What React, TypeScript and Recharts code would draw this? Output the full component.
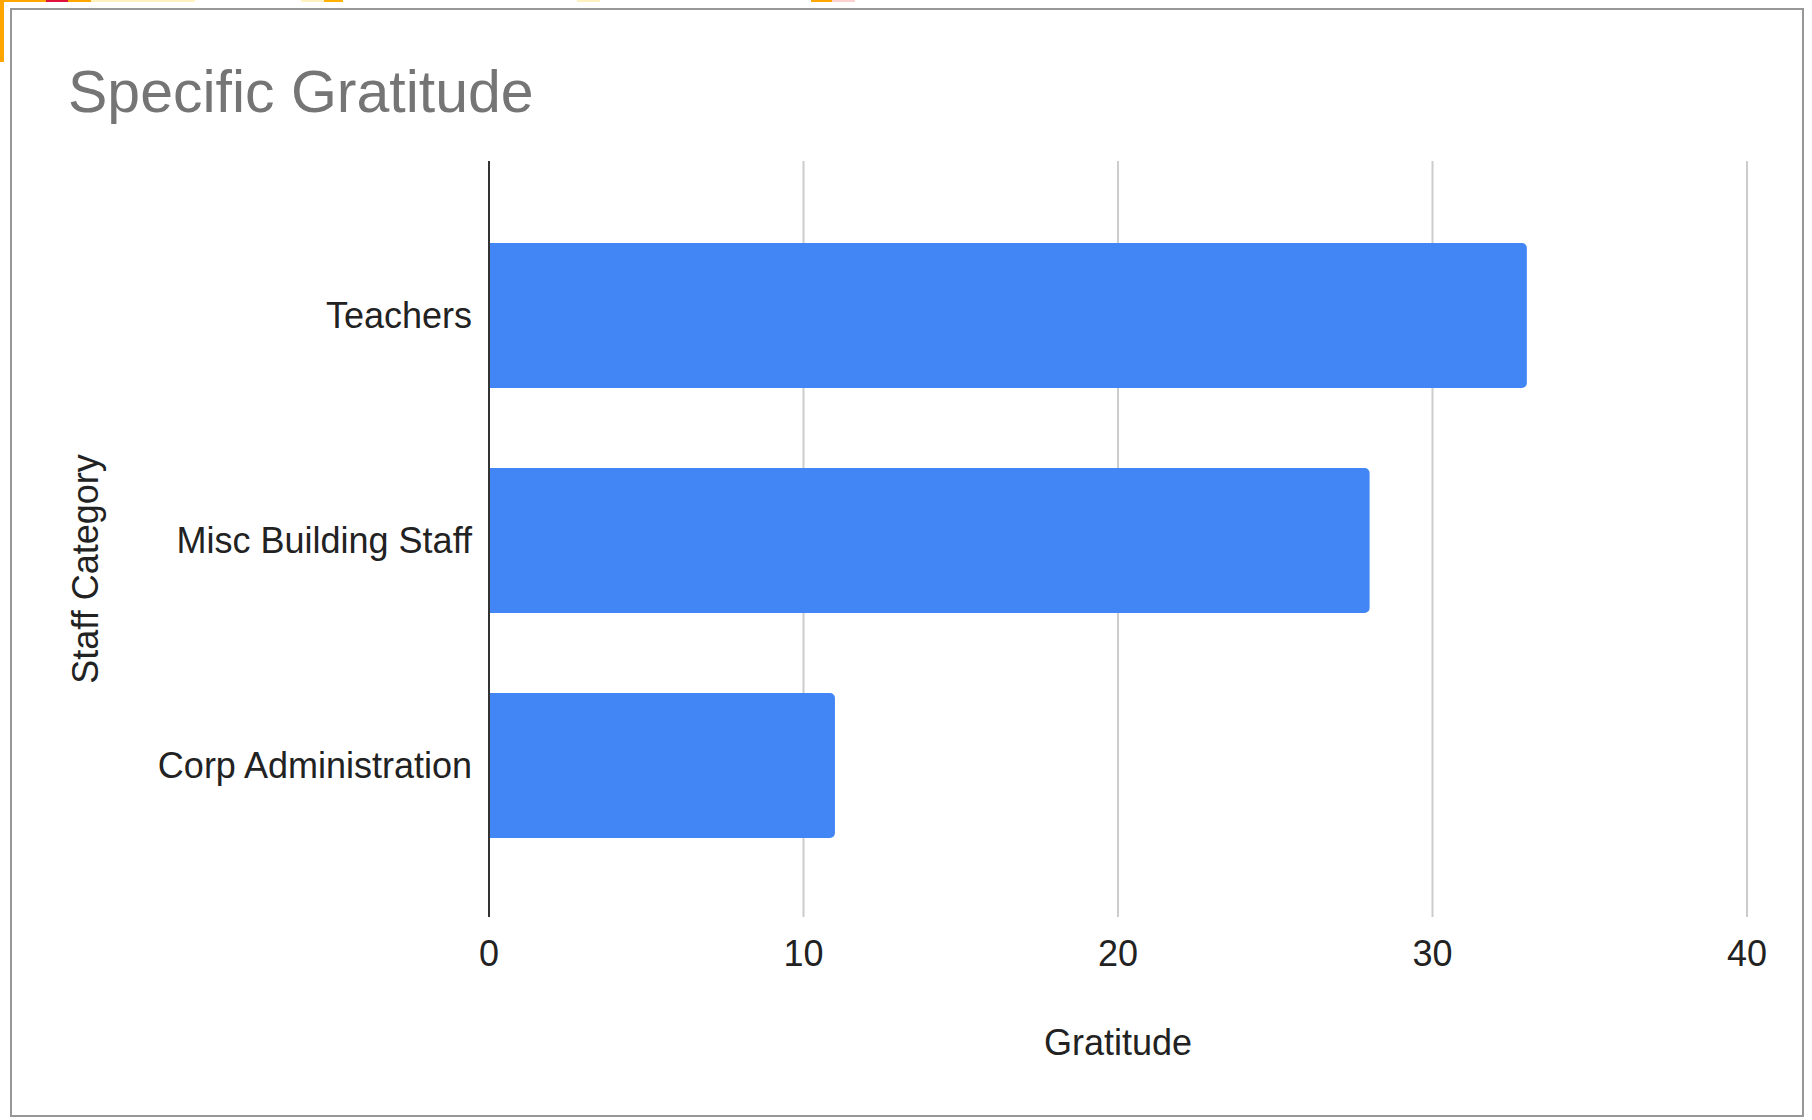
import React from 'react';
import { BarChart, Bar, XAxis, YAxis, CartesianGrid, Label } from 'recharts';

const categories = ['Teachers', 'Misc Building Staff', 'Corp Administration'];
const gratitudeValues = [33, 28, 11];
const xTicks = [0, 10, 20, 30, 40];

const chartTitle = 'Specific Gratitude';
const xAxisTitle = 'Gratitude';
const yAxisTitle = 'Staff Category';

const data = categories.map((name, i) => ({ name, value: gratitudeValues[i] }));

const FONT = '"Liberation Sans", Arial, Helvetica, sans-serif';

const YTitle = (props: any) => {
  const vb = props.viewBox || { x: 0, y: 0, width: 0, height: 0 };
  const cx = vb.x + 69;
  const cy = vb.y + vb.height / 2 + 30;
  return (
    <text
      x={cx}
      y={cy}
      textAnchor="middle"
      transform={`rotate(-90, ${cx}, ${cy})`}
      fontFamily={FONT}
      fontSize={36}
      fill="#222222"
    >
      {yAxisTitle}
    </text>
  );
};

const strips = [
  { l: 0, w: 46, c: '#ffa500' },
  { l: 46, w: 22, c: '#e0113c' },
  { l: 68, w: 23, c: '#ffa500' },
  { l: 91, w: 104, c: '#fff0c0' },
  { l: 301, w: 23, c: '#fff0c0' },
  { l: 324, w: 19, c: '#ffb000' },
  { l: 577, w: 23, c: '#fff0c0' },
  { l: 811, w: 21, c: '#ffa500' },
  { l: 832, w: 23, c: '#ffd0d0' },
];

export default function App() {
  return (
    <div style={{ position: 'absolute', left: 0, top: 0, width: 1812, height: 1120, background: '#ffffff', overflow: 'hidden' }}>
      {strips.map((s, i) => (
        <div key={i} style={{ position: 'absolute', left: s.l, top: 0, width: s.w, height: 2, background: s.c }} />
      ))}
      <div style={{ position: 'absolute', left: 0, top: 0, width: 4, height: 62, background: '#ffa500' }} />
      <div
        style={{
          position: 'absolute',
          left: 10,
          top: 8,
          width: 1794,
          height: 1109,
          boxSizing: 'border-box',
          border: '2px solid #979797',
          background: '#ffffff',
        }}
      />
      <div style={{ position: 'absolute', left: 0, top: 0 }}>
        <BarChart
          width={1812}
          height={1120}
          data={data}
          layout="vertical"
          margin={{ top: 161, right: 65, bottom: 43, left: 29 }}
          barSize={145}
        >
          <CartesianGrid horizontal={false} stroke="#cccccc" strokeWidth={2} />
          <XAxis
            type="number"
            domain={[0, 40]}
            ticks={xTicks}
            axisLine={false}
            tickLine={false}
            tickSize={0}
            tickMargin={23}
            height={160}
            tick={{ fontSize: 36, fill: '#222222', fontFamily: FONT }}
          >
            <Label value={xAxisTitle} position="insideBottom" offset={22} fontSize={36} fill="#222222" fontFamily={FONT} />
          </XAxis>
          <YAxis
            type="category"
            dataKey="name"
            width={460}
            padding={{ top: 42, bottom: 39 }}
            axisLine={{ stroke: '#333333', strokeWidth: 2 }}
            tickLine={false}
            tickSize={0}
            tickMargin={17}
            tick={{ fontSize: 36, fill: '#222222', fontFamily: FONT }}
          >
            <Label content={<YTitle />} />
          </YAxis>
          <Bar dataKey="value" fill="#4285f4" radius={[0, 5, 5, 0]} isAnimationActive={false} />
        </BarChart>
      </div>
      <div
        style={{
          position: 'absolute',
          left: 68,
          top: 63,
          fontFamily: FONT,
          fontSize: 59,
          lineHeight: '59px',
          color: '#757575',
          whiteSpace: 'nowrap',
        }}
      >
        {chartTitle}
      </div>
    </div>
  );
}
